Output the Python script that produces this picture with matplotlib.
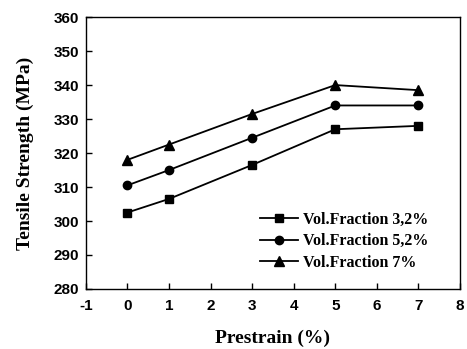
import matplotlib
matplotlib.use("Agg")
import matplotlib.pyplot as plt

plt.rcParams['axes.unicode_minus'] = False

# Data
prestrain = [0, 1, 3, 5, 7]
vf_32 = [302.5, 306.5, 316.5, 327, 328]
vf_52 = [310.5, 315, 324.5, 334, 334]
vf_7 = [318, 322.5, 331.5, 340, 338.5]
labels = ["Vol.Fraction 3,2%", "Vol.Fraction 5,2%", "Vol.Fraction 7%"]
x_ticks = [-1, 0, 1, 2, 3, 4, 5, 6, 7, 8]
y_ticks = [280, 290, 300, 310, 320, 330, 340, 350, 360]

fig = plt.figure(figsize=(4.67, 3.49), dpi=100)
ax = fig.add_axes([0.184, 0.172, 0.801, 0.779])

ax.plot(prestrain, vf_32, '-s', color='black', lw=1.3, ms=6, label=labels[0])
ax.plot(prestrain, vf_52, '-o', color='black', lw=1.3, ms=6, label=labels[1])
ax.plot(prestrain, vf_7, '-^', color='black', lw=1.3, ms=7, label=labels[2])

ax.set_xlim(-1, 8)
ax.set_ylim(280, 360)
ax.set_xticks(x_ticks)
ax.set_yticks(y_ticks)
ax.tick_params(direction='in', length=4, width=1, labelsize=11)
ax.tick_params(axis='x', pad=7)
ax.tick_params(axis='y', pad=5)
for lab in ax.get_xticklabels() + ax.get_yticklabels():
    lab.set_fontfamily('Liberation Sans')
    lab.set_fontweight('bold')
for sp in ax.spines.values():
    sp.set_linewidth(1)

ax.set_xlabel("Prestrain (%)", fontfamily='Liberation Serif', fontweight='bold',
              fontsize=14, labelpad=12)
ax.set_ylabel("Tensile Strength (MPa)", fontfamily='Liberation Serif', fontweight='bold',
              fontsize=14, labelpad=14)

leg = ax.legend(loc='center left', frameon=False, handlelength=2.4, handletextpad=0.3,
                labelspacing=0.35, borderpad=0, borderaxespad=0,
                prop={'family': 'Liberation Serif', 'weight': 'bold', 'size': 11.5},
                bbox_to_anchor=(0.465, 0.176))

fig.savefig("out.png", dpi=100)
